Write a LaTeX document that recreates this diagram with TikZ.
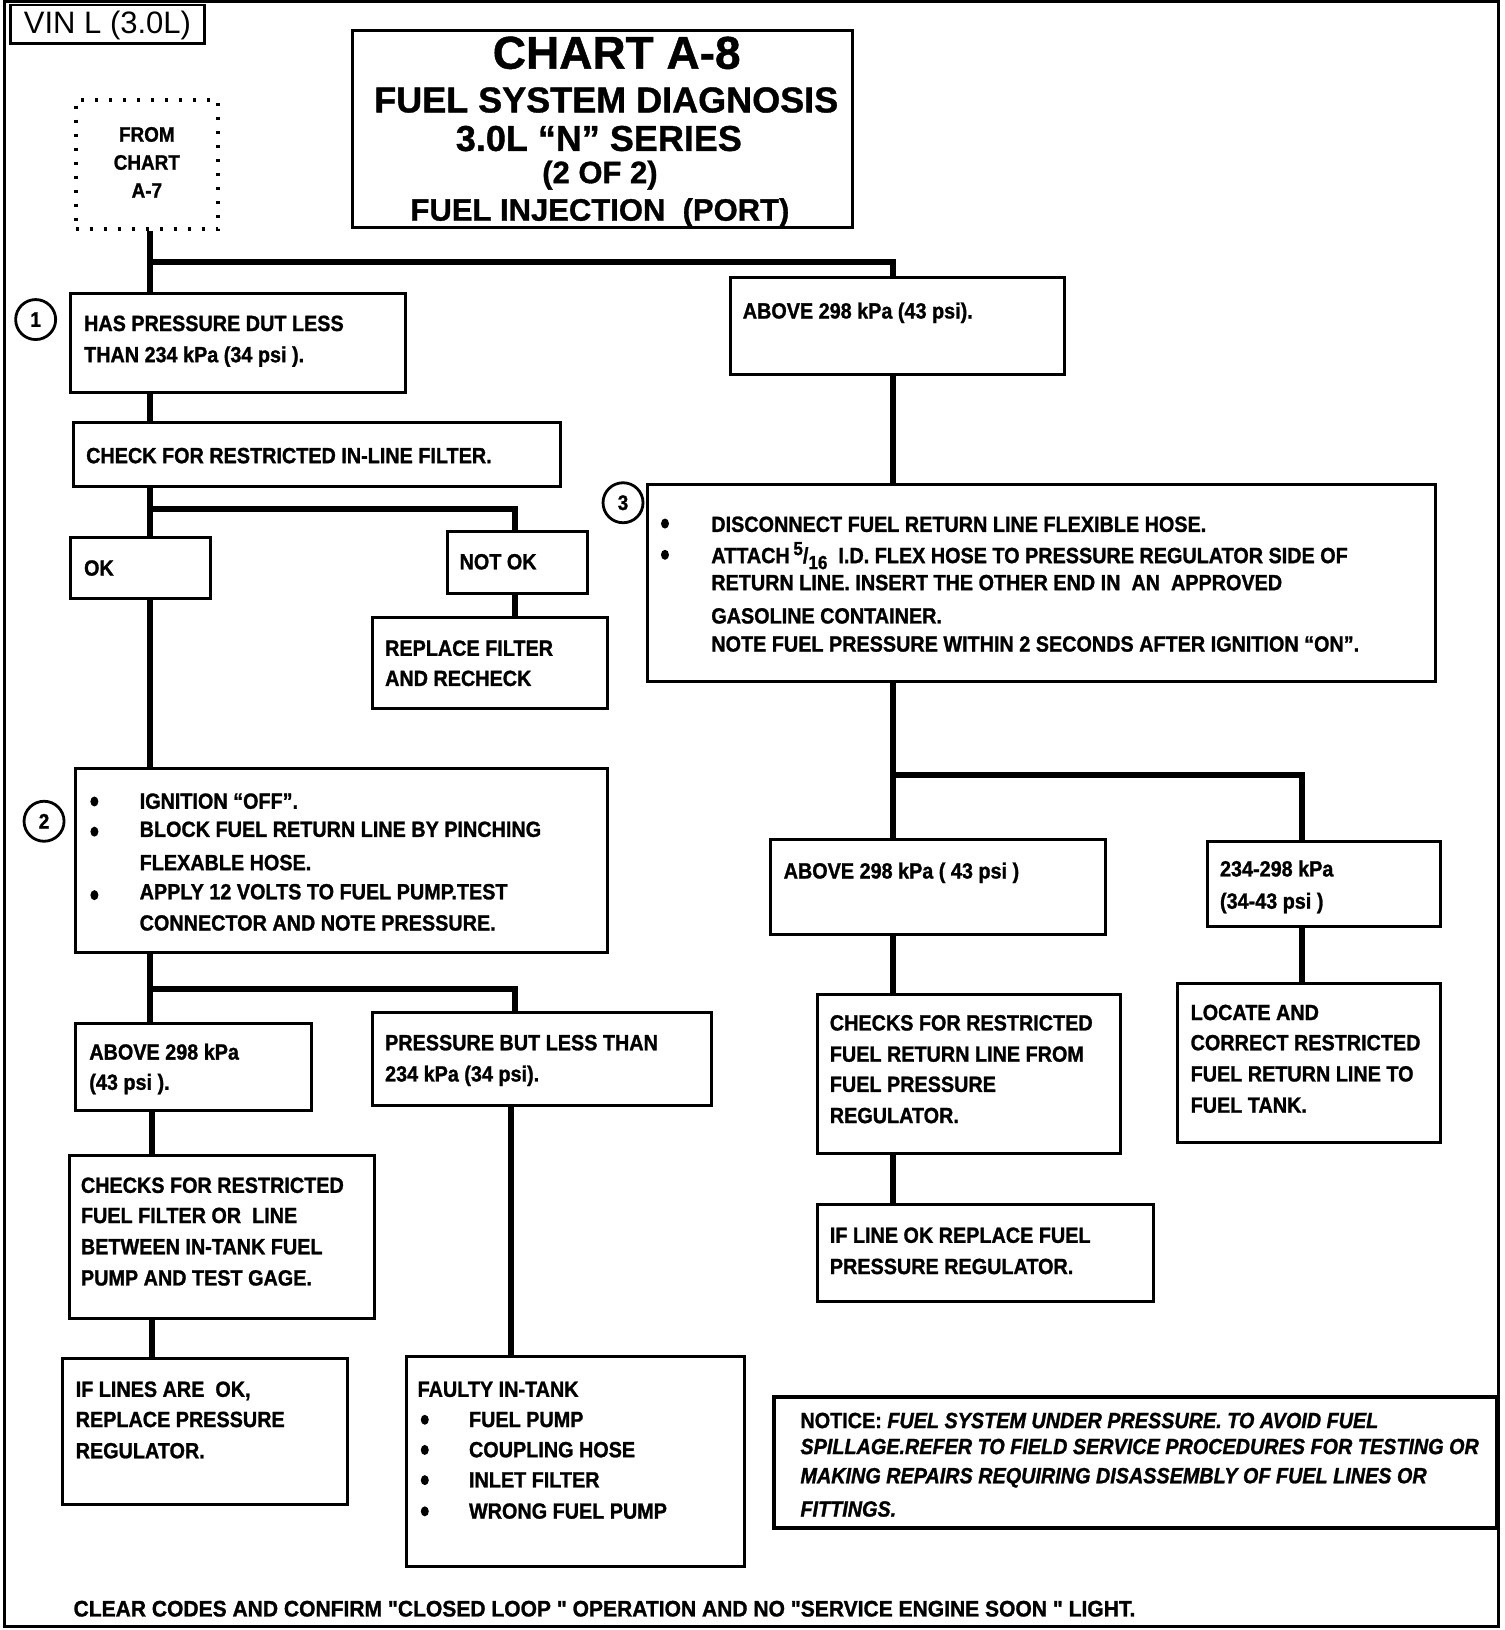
\documentclass[tikz,border=0pt]{standalone}
\usepackage{fontspec}
\setmainfont{Liberation Sans}
\newfontfamily\cf{Liberation Sans}[FakeStretch=0.9, BoldFeatures={FakeBold=1.2}, BoldItalicFeatures={FakeBold=1.2}]
\newfontfamily\cfw{Liberation Sans}[FakeStretch=0.935, BoldFeatures={FakeBold=1.2}]
\newfontfamily\tf{Liberation Sans}[BoldFeatures={FakeBold=1}]
\usetikzlibrary{fit,shapes.geometric}
\newcommand{\bodyfnt}{\cf\bfseries\fontsize{22}{26}\selectfont}
\newcommand{\fracpart}{{\fontsize{19}{19}\selectfont\raisebox{8pt}{5}}/{\fontsize{19}{19}\selectfont\raisebox{-6pt}{16}}}
\begin{document}
\begin{tikzpicture}[x=1.049pt,y=-1.041pt,
  box/.style={draw, line width=3pt, inner sep=0pt},
  txt/.style={anchor=base west, inner sep=0pt, font=\bodyfnt},
  ttl/.style={anchor=base, inner sep=0pt, font=\tf\bfseries\fontsize{#1}{#1}\selectfont},
  conn/.style={line width=6pt},
  numc/.style={circle, draw, line width=2.8pt, minimum size=40pt, inner sep=0pt, fill=white, font=\cf\bfseries\fontsize{21}{22}\selectfont},
  bul/.style={ellipse, fill, inner sep=0pt, minimum width=8pt, minimum height=10pt},
]
\useasboundingbox (0,0) rectangle (1434,1566);
% outer frame
\draw[line width=3pt] (4,1) rectangle (1429,1563);

% coordinates for connector x positions
\coordinate (xL) at (143,0);
\coordinate (xC) at (145,0);
\coordinate (xN) at (491,0);
\coordinate (xP) at (487,0);
\coordinate (xR) at (851,0);
\coordinate (xRR) at (1241,0);
\coordinate (y1) at (0,252);
\coordinate (y2) at (0,489);
\coordinate (y3) at (0,745);
\coordinate (y4) at (0,950);

% header
\node[box, line width=2.5pt, fit={(10,5) (195,42)}] (vin) {};
\node[inner sep=0pt, font=\tf\fontsize{31}{31}\selectfont] (vint) at (102.5,24) {VIN L (3.0L)};

\node[box, fit={(336,29) (813,219)}] (title) {};
\node[ttl=46] (t1) at (588,66) {CHART A-8};
\node[ttl=36] (t2) at (578,108) {FUEL SYSTEM DIAGNOSIS};
\node[ttl=36] (t3) at (571,145) {3.0L “N” SERIES};
\node[ttl=31] (t4) at (572,176) {(2 OF 2)};
\node[ttl=31] (t5) at (572,212) {FUEL INJECTION\ \ (PORT)};

\node[draw, line width=4pt, dash pattern=on 3pt off 11pt, inner sep=0pt, fit={(72,96) (208,220)}] (from) {};
\node[inner sep=0pt, align=center, font=\cf\bfseries\fontsize{21}{28}\selectfont] (fromt) at (140,156) {FROM\\CHART\\A-7};

% boxes
\node[box, fit={(67,282) (387,377)}] (b1) {};
\node[box, fit={(696,267) (1015,360)}] (ab1) {};
\node[box, fit={(70,406) (534,467)}] (chk) {};
\node[box, fit={(67,516) (201,575)}] (ok) {};
\node[box, fit={(427,511) (560,570)}] (nok) {};
\node[box, fit={(355,593) (579,681)}] (rep) {};
\node[box, fit={(617,465) (1369,655)}] (s3) {};
\node[box, fit={(72,738) (579,915)}] (s2) {};
\node[box, fit={(735,807) (1054,898)}] (ab2) {};
\node[box, fit={(1151,808) (1373,890)}] (rng) {};
\node[box, fit={(779,955) (1068,1108)}] (crl) {};
\node[box, fit={(1123,945) (1373,1098)}] (loc) {};
\node[box, fit={(779,1157) (1100,1250)}] (ifl) {};
\node[box, fit={(72,983) (297,1067)}] (ab3) {};
\node[box, fit={(355,973) (678,1062)}] (pbl) {};
\node[box, fit={(66,1110) (357,1267)}] (cff) {};
\node[box, fit={(60,1305) (331,1445)}] (ifs) {};
\node[box, fit={(388,1303) (710,1505)}] (fau) {};
\node[box, line width=4pt, fit={(738,1342) (1427,1468)}] (ntc) {};

% connectors
\draw[conn] (from.south -| xL) -- (b1.north -| xL);
\draw[conn] (xL |- y1) -- (xR |- y1) -- (ab1.north -| xR);
\draw[conn] (b1.south -| xL) -- (chk.north -| xL);
\draw[conn] (chk.south -| xL) -- (ok.north -| xL);
\draw[conn] (xL |- y2) -- (xN |- y2) -- (nok.north -| xN);
\draw[conn] (nok.south -| xN) -- (rep.north -| xN);
\draw[conn] (ok.south -| xL) -- (s2.north -| xL);
\draw[conn] (ab1.south -| xR) -- (s3.north -| xR);
\draw[conn] (s3.south -| xR) -- (ab2.north -| xR);
\draw[conn] (xR |- y3) -- (xRR |- y3) -- (rng.north -| xRR);
\draw[conn] (ab2.south -| xR) -- (crl.north -| xR);
\draw[conn] (rng.south -| xRR) -- (loc.north -| xRR);
\draw[conn] (crl.south -| xR) -- (ifl.north -| xR);
\draw[conn] (s2.south -| xL) -- (ab3.north -| xL);
\draw[conn] (xL |- y4) -- (xN |- y4) -- (pbl.north -| xN);
\draw[conn] (ab3.south -| xC) -- (cff.north -| xC);
\draw[conn] (cff.south -| xC) -- (ifs.north -| xC);
\draw[conn] (pbl.south -| xP) -- (fau.north -| xP);

% step circles
\node[numc] (c1) at (34,307) {1};
\node[numc] (c2) at (42,789) {2};
\node[numc] (c3) at (594,483) {3};

% texts
\node[txt] (b1a) at (80,318) {HAS PRESSURE DUT LESS};
\node[txt] (b1b) at (80,348) {THAN 234 kPa (34 psi ).};
\node[txt] (ab1a) at (708,306) {ABOVE 298 kPa (43 psi).};
\node[txt] (chka) at (82,445) {CHECK FOR RESTRICTED IN-LINE FILTER.};
\node[txt] (oka) at (80,553) {OK};
\node[txt] (noka) at (438,547) {NOT OK};
\node[txt] (repa) at (367,630) {REPLACE FILTER};
\node[txt] (repb) at (367,659) {AND RECHECK};

\node[bul] (s3d1) at (634,503) {};
\node[bul] (s3d2) at (634,533) {};
\node[txt] (s3a) at (678,511) {DISCONNECT FUEL RETURN LINE FLEXIBLE HOSE.};
\node[txt] (s3b) at (678,541) {ATTACH\,\fracpart\ \ I.D. FLEX HOSE TO PRESSURE REGULATOR SIDE OF};
\node[txt] (s3c) at (678,567) {RETURN LINE. INSERT THE OTHER END IN\ \ AN\ \ APPROVED};
\node[txt] (s3e) at (678,599) {GASOLINE CONTAINER.};
\node[txt] (s3f) at (678,626) {NOTE FUEL PRESSURE WITHIN 2 SECONDS AFTER IGNITION “ON”.};

\node[bul] (s2d1) at (90,770) {};
\node[bul] (s2d2) at (90,799) {};
\node[bul] (s2d3) at (90,860) {};
\node[txt] (s2a) at (133,777) {IGNITION “OFF”.};
\node[txt] (s2b) at (133,804) {BLOCK FUEL RETURN LINE BY PINCHING};
\node[txt] (s2c) at (133,836) {FLEXABLE HOSE.};
\node[txt] (s2e) at (133,864) {APPLY 12 VOLTS TO FUEL PUMP.TEST};
\node[txt] (s2f) at (133,894) {CONNECTOR AND NOTE PRESSURE.};

\node[txt] (ab2a) at (747,844) {ABOVE 298 kPa ( 43 psi )};
\node[txt] (rnga) at (1163,842) {234-298 kPa};
\node[txt] (rngb) at (1163,873) {(34-43 psi )};
\node[txt] (crla) at (791,990) {CHECKS FOR RESTRICTED};
\node[txt] (crlb) at (791,1020) {FUEL RETURN LINE FROM};
\node[txt] (crlc) at (791,1049) {FUEL PRESSURE};
\node[txt] (crld) at (791,1079) {REGULATOR.};
\node[txt] (loca) at (1135,980) {LOCATE AND};
\node[txt] (locb) at (1135,1009) {CORRECT RESTRICTED};
\node[txt] (locc) at (1135,1039) {FUEL RETURN LINE TO};
\node[txt] (locd) at (1135,1069) {FUEL TANK.};
\node[txt] (ifla) at (791,1194) {IF LINE OK REPLACE FUEL};
\node[txt] (iflb) at (791,1224) {PRESSURE REGULATOR.};

\node[txt] (ab3a) at (85,1018) {ABOVE 298 kPa};
\node[txt] (ab3b) at (85,1047) {(43 psi ).};
\node[txt] (pbla) at (367,1009) {PRESSURE BUT LESS THAN};
\node[txt] (pblb) at (367,1039) {234 kPa (34 psi).};
\node[txt] (cffa) at (77,1146) {CHECKS FOR RESTRICTED};
\node[txt] (cffb) at (77,1175) {FUEL FILTER OR\ \ LINE};
\node[txt] (cffc) at (77,1205) {BETWEEN IN-TANK FUEL};
\node[txt] (cffd) at (77,1235) {PUMP AND TEST GAGE.};
\node[txt] (ifsa) at (72,1342) {IF LINES ARE\ \ OK,};
\node[txt] (ifsb) at (72,1371) {REPLACE PRESSURE};
\node[txt] (ifsc) at (72,1401) {REGULATOR.};

\node[txt] (faua) at (398,1342) {FAULTY IN-TANK};
\node[bul] (fd1) at (405,1364) {};
\node[bul] (fd2) at (405,1393) {};
\node[bul] (fd3) at (405,1422) {};
\node[bul] (fd4) at (405,1452) {};
\node[txt] (faub) at (447,1371) {FUEL PUMP};
\node[txt] (fauc) at (447,1400) {COUPLING HOSE};
\node[txt] (faud) at (447,1429) {INLET FILTER};
\node[txt] (faue) at (447,1459) {WRONG FUEL PUMP};

\node[txt] (ntca) at (763,1372) {NOTICE: \itshape FUEL SYSTEM UNDER PRESSURE. TO AVOID FUEL};
\node[txt] (ntcb) at (763,1397) {\itshape SPILLAGE.REFER TO FIELD SERVICE PROCEDURES FOR TESTING OR};
\node[txt] (ntcc) at (763,1425) {\itshape MAKING REPAIRS REQUIRING DISASSEMBLY OF FUEL LINES OR};
\node[txt] (ntcd) at (763,1457) {\itshape FITTINGS.};

\node[txt, font=\cfw\bfseries\fontsize{22.5}{26}\selectfont] (clr) at (70,1553) {CLEAR CODES AND CONFIRM "CLOSED LOOP " OPERATION AND NO "SERVICE ENGINE SOON " LIGHT.};
\end{tikzpicture}
\end{document}
